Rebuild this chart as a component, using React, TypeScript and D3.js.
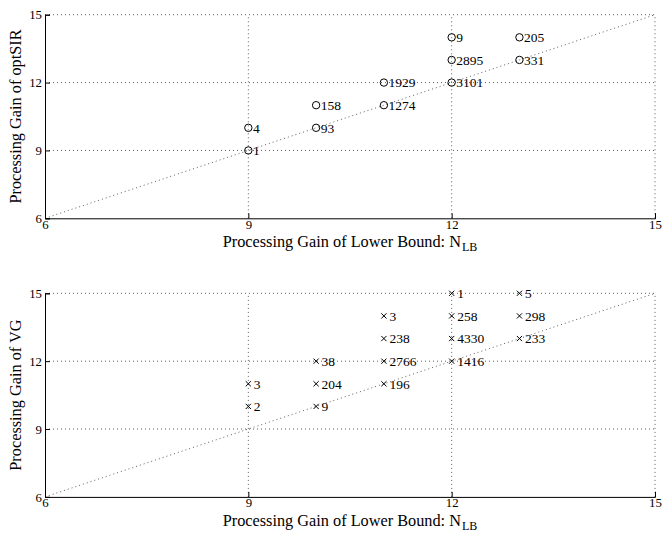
import React, { useEffect, useRef } from "react";
import * as d3 from "d3";

// top panel: optSIR
const optX = [9, 9, 10, 10, 11, 11, 12, 12, 12, 13, 13];
const optY = [9, 10, 10, 11, 11, 12, 12, 13, 14, 13, 14];
const optN = ["1", "4", "93", "158", "1274", "1929", "3101", "2895", "9", "331", "205"];

// bottom panel: VG
const vgX = [9, 9, 10, 10, 10, 11, 11, 11, 11, 12, 12, 12, 12, 13, 13, 13];
const vgY = [10, 11, 10, 11, 12, 11, 12, 13, 14, 12, 13, 14, 15, 13, 14, 15];
const vgN = ["2", "3", "9", "204", "38", "196", "2766", "238", "3", "1416", "4330", "258", "1", "233", "298", "5"];

const ticks = [6, 9, 12, 15];

const W = 665;
const H = 533;
const FONT = "'Liberation Serif', 'Times New Roman', serif";

type Panel = {
  top: number;
  xs: number[];
  ys: number[];
  ns: string[];
  marker: "o" | "x";
  ylabel: string;
};

const panels: Panel[] = [
  { top: 14.7, xs: optX, ys: optY, ns: optN, marker: "o", ylabel: "Processing Gain of optSIR" },
  { top: 293.3, xs: vgX, ys: vgY, ns: vgN, marker: "x", ylabel: "Processing Gain of VG" },
];

export default function App() {
  const ref = useRef<SVGSVGElement>(null);

  useEffect(() => {
    const svg = d3.select(ref.current);
    svg.selectAll("*").remove();

    const left = 45;
    const right = 655;
    const innerH = 203.6;

    panels.forEach((p) => {
      const x = d3.scaleLinear().domain([6, 15]).range([left, right]);
      const y = d3.scaleLinear().domain([6, 15]).range([p.top + innerH, p.top]);
      const g = svg.append("g");

      // dotted grid
      ticks.slice(1).forEach((t) => {
        g.append("line")
          .attr("x1", x(t)).attr("x2", x(t))
          .attr("y1", y(6)).attr("y2", y(15))
          .attr("stroke", "#333").attr("stroke-width", 0.8)
          .attr("stroke-dasharray", "1 3");
        g.append("line")
          .attr("x1", x(6)).attr("x2", x(15))
          .attr("y1", y(t)).attr("y2", y(t))
          .attr("stroke", "#333").attr("stroke-width", 0.8)
          .attr("stroke-dasharray", "1 3");
      });

      // diagonal y = x
      g.append("line")
        .attr("x1", x(6)).attr("y1", y(6))
        .attr("x2", x(15)).attr("y2", y(15))
        .attr("stroke", "#333").attr("stroke-width", 0.8)
        .attr("stroke-dasharray", "1 3");

      // axes
      const xAxis = d3.axisBottom(x).tickValues(ticks).tickSize(-5).tickPadding(4);
      const yAxis = d3.axisLeft(y).tickValues(ticks).tickSize(-5).tickPadding(3);

      const gx = g.append("g").attr("transform", `translate(0,${y(6)})`).call(xAxis);
      const gy = g.append("g").attr("transform", `translate(${x(6)},0)`).call(yAxis);
      [gx, gy].forEach((a) => {
        a.select(".domain").attr("stroke", "#000").attr("stroke-width", 1);
        a.selectAll(".tick line").attr("stroke", "#000");
        a.selectAll(".tick text")
          .attr("font-family", FONT)
          .attr("font-size", 12.8)
          .attr("fill", "#000");
      });
      gx.selectAll(".tick text").attr("dy", "0.5em");

      // markers
      const pts = p.xs.map((v, i) => ({ x: v, y: p.ys[i], n: p.ns[i] }));
      if (p.marker === "o") {
        g.selectAll("circle.pt")
          .data(pts)
          .join("circle")
          .attr("class", "pt")
          .attr("cx", (d) => x(d.x))
          .attr("cy", (d) => y(d.y))
          .attr("r", 3.7)
          .attr("fill", "none")
          .attr("stroke", "#000")
          .attr("stroke-width", 1);
      } else {
        g.selectAll("path.pt")
          .data(pts)
          .join("path")
          .attr("class", "pt")
          .attr("transform", (d) => `translate(${x(d.x)},${y(d.y)})`)
          .attr("d", "M-2.6,-2.6L2.6,2.6M-2.6,2.6L2.6,-2.6")
          .attr("stroke", "#000")
          .attr("stroke-width", 1);
      }

      g.selectAll("text.lbl")
        .data(pts)
        .join("text")
        .attr("class", "lbl")
        .attr("x", (d) => x(d.x) + (p.marker === "o" ? 4.6 : 5.5))
        .attr("y", (d) => y(d.y) + 4.8)
        .attr("font-family", FONT)
        .attr("font-size", 13.5)
        .text((d) => d.n);

      // axis titles
      const xt = g.append("text")
        .attr("x", 350)
        .attr("y", y(6) + 29)
        .attr("text-anchor", "middle")
        .attr("font-family", FONT)
        .attr("font-size", 16.3);
      xt.append("tspan").text("Processing Gain of Lower Bound: N");
      xt.append("tspan").attr("font-size", 12).attr("dx", 1).attr("dy", 3.8).text("LB");

      g.append("text")
        .attr("transform", `translate(21,${p.top + innerH / 2}) rotate(-90)`)
        .attr("text-anchor", "middle")
        .attr("font-family", FONT)
        .attr("font-size", 16.3)
        .text(p.ylabel);
    });
  }, []);

  return (
    <svg
      ref={ref}
      width={W}
      height={H}
      style={{ position: "absolute", left: 0, top: 0, background: "#fff" }}
    />
  );
}
